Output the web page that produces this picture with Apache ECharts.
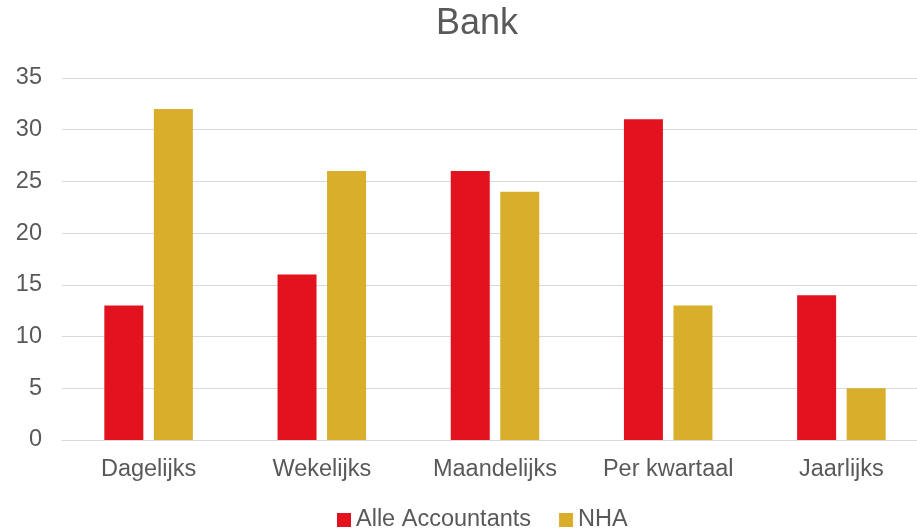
<!DOCTYPE html>
<html>
<head>
<meta charset="utf-8">
<script src="https://cdn.jsdelivr.net/npm/echarts@6/dist/echarts.min.js"></script>
<style>
  html, body { margin: 0; padding: 0; background: #fff; }
  #chart { width: 917px; height: 532px; }
</style>
</head>
<body>
<div id="chart"></div>
<script>
const categories = ['Dagelijks', 'Wekelijks', 'Maandelijks', 'Per kwartaal', 'Jaarlijks']
const alleAccountants = [13, 16, 26, 31, 14]
const nha = [32, 26, 24, 13, 5]
const yTicks = { min: 0, max: 35, interval: 5 }

const chart = echarts.init(document.getElementById('chart'))
chart.setOption({
  textStyle: { fontFamily: 'Liberation Sans, Arial, sans-serif' },
  title: {
    text: 'Bank',
    left: 431,
    top: 1,
    textStyle: { fontSize: 36, fontWeight: 'normal', color: '#595959' }
  },
  legend: {
    bottom: -5,
    left: 332,
    itemWidth: 14,
    itemHeight: 14,
    itemGap: 28,
    icon: 'rect',
    textStyle: { fontSize: 23.5, color: '#595959' },
    data: ['Alle Accountants', 'NHA']
  },
  // plot area in the original runs a bit past the right edge
  grid: {
    left: 62,
    right: -11,
    top: 78,
    bottom: 92,
    outerBoundsMode: 'none'
  },
  xAxis: {
    type: 'category',
    data: categories,
    axisLine: { show: true, lineStyle: { color: '#d9d9d9', width: 1 } },
    axisTick: { show: false },
    axisLabel: { fontSize: 23.5, color: '#595959', margin: 18 }
  },
  yAxis: {
    type: 'value',
    min: yTicks.min,
    max: yTicks.max,
    interval: yTicks.interval,
    axisLine: { show: false },
    axisTick: { show: false },
    splitLine: { lineStyle: { color: '#d9d9d9', width: 1 } },
    axisLabel: { fontSize: 23.5, color: '#595959', margin: 20 }
  },
  series: [
    {
      name: 'Alle Accountants',
      type: 'bar',
      data: alleAccountants,
      barWidth: 39,
      barGap: '27%',
      itemStyle: { color: '#E2131E' }
    },
    {
      name: 'NHA',
      type: 'bar',
      data: nha,
      barWidth: 39,
      barGap: '27%',
      itemStyle: { color: '#D9AE2B' }
    }
  ]
})
</script>
</body>
</html>
